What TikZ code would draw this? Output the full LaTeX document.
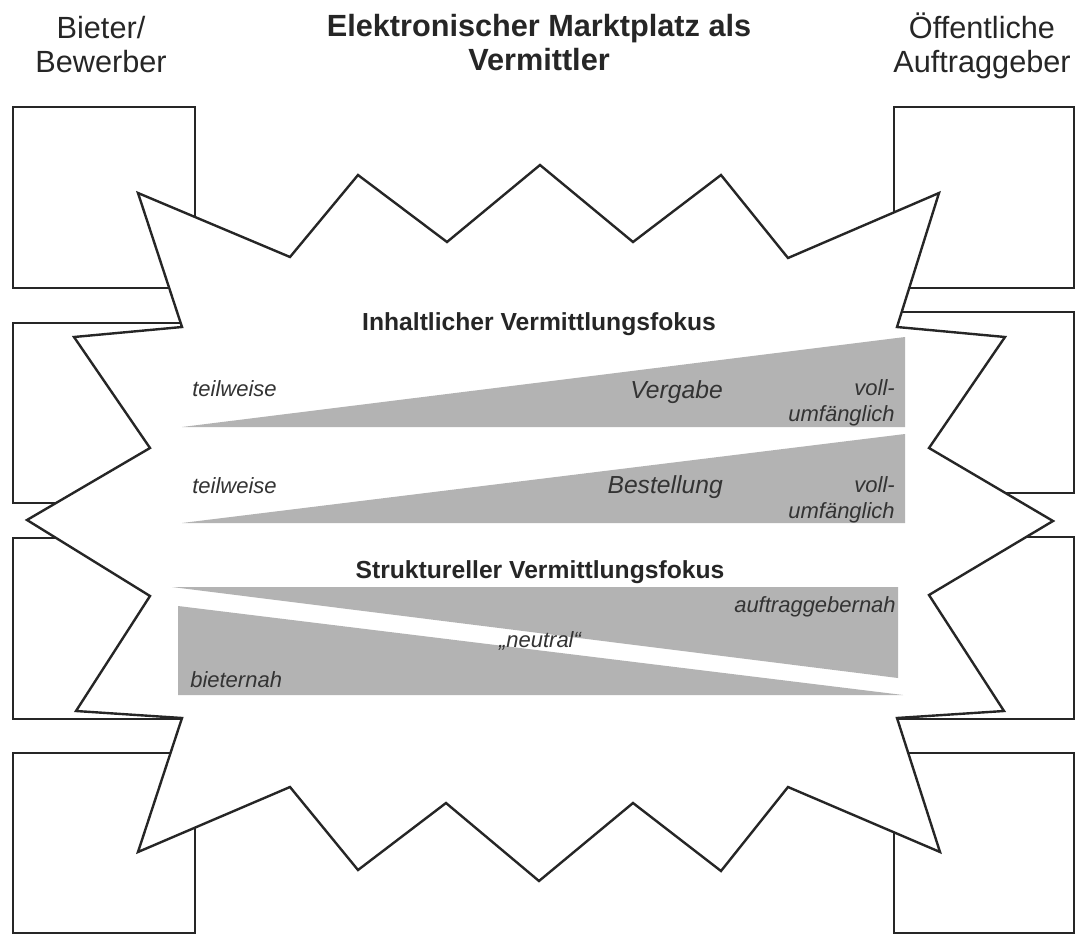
\documentclass[tikz,border=0pt]{standalone}
\usepackage{fontspec}
\setmainfont{Liberation Sans}
\definecolor{wedgegray}{HTML}{B3B3B3}
\definecolor{inkgray}{HTML}{333333}
\tikzset{
  outline/.style={draw=black!85, line width=1.8pt},
  wedge/.style={fill=wedgegray},
  heading/.style={font=\bfseries\fontsize{18.5}{21}\selectfont, text=black!85, inner sep=0pt, anchor=base},
  side/.style={font=\fontsize{23}{25.5}\selectfont, align=center, inner sep=0pt, anchor=base, text=black!85},
  scale label/.style={font=\itshape\fontsize{16.5}{19.5}\selectfont, text=inkgray, inner sep=0pt},
  scale name/.style={scale label, font=\itshape\fontsize{18.5}{22}\selectfont, anchor=base east},
}

\begin{document}
\begin{tikzpicture}[x=0.75pt,y=-0.75pt]
    % Fix the page size
    \useasboundingbox (0,0) rectangle (1075,935);
    % Boxes of the bidders (left) and of the public clients (right)
    \foreach \top/\bot in {107/288,323/503,538/719,753/933}
        \draw[outline] (13,\top) rectangle (195,\bot);
    \foreach \top/\bot in {107/288,312/493,537/719,753/933}
        \draw[outline] (894,\top) rectangle (1074,\bot);
    % The star of the marketplace
    \draw[outline, fill=white]
        (138,193) -- (290,257) -- (358,175) -- (447,242) -- (540,165)
        -- (633,242) -- (721,175) -- (788,258) -- (939,193) -- (897,327)
        -- (1005,337) -- (929,448) -- (1053,521) -- (929,595) -- (1004,711)
        -- (897,718) -- (940,852) -- (788,787) -- (721,871) -- (633,803)
        -- (539,881) -- (446,803) -- (358,870) -- (290,787) -- (138,852)
        -- (182,718) -- (76,711) -- (150,596) -- (27,520) -- (150,448)
        -- (74,337) -- (182,327) -- cycle;
    % Wedges of the focus
    \fill[wedge] (182,427) -- (905,337) -- (905,427) -- cycle;
    \fill[wedge] (182,523) -- (905,434) -- (905,523) -- cycle;
    \fill[wedge] (172,587) -- (898,587) -- (898,678) -- cycle;
    \fill[wedge] (178,606) -- (903,695) -- (178,695) -- cycle;
    % Headings (base = last line)
    \node[side, font=\bfseries\fontsize{23}{25.5}\selectfont] (market) at (539,70) {Elektronischer Marktplatz als\\Vermittler};
    \node[side] (bidder) at (101,72) {Bieter/\\Bewerber};
    \node[side] (client) at (982,72) {Öffentliche\\Auftraggeber};
    \node[heading] (content) at (539,330) {Inhaltlicher Vermittlungsfokus};
    \node[heading] (structure) at (540,578) {Struktureller Vermittlungsfokus};
    % Labels of the wedges
    \node[scale label, anchor=base west] (part award) at (192,396) {teilweise};
    \node[scale name] (award) at (723,398) {Vergabe};
    \node[scale label, anchor=base east, align=right] (full award) at (895,421) {voll-\\umfänglich};
    \node[scale label, anchor=base west] (part order) at (192,493) {teilweise};
    \node[scale name] (order) at (723,493) {Bestellung};
    \node[scale label, anchor=base east, align=right] (full order) at (895,518) {voll-\\umfänglich};
    \node[scale label, anchor=base east] (client near) at (896,612) {auftraggebernah};
    \node[scale label, anchor=base] (neutral) at (540,647) {„neutral“};
    \node[scale label, anchor=base west] (bidder near) at (190,687) {bieternah};
\end{tikzpicture}
\end{document}
